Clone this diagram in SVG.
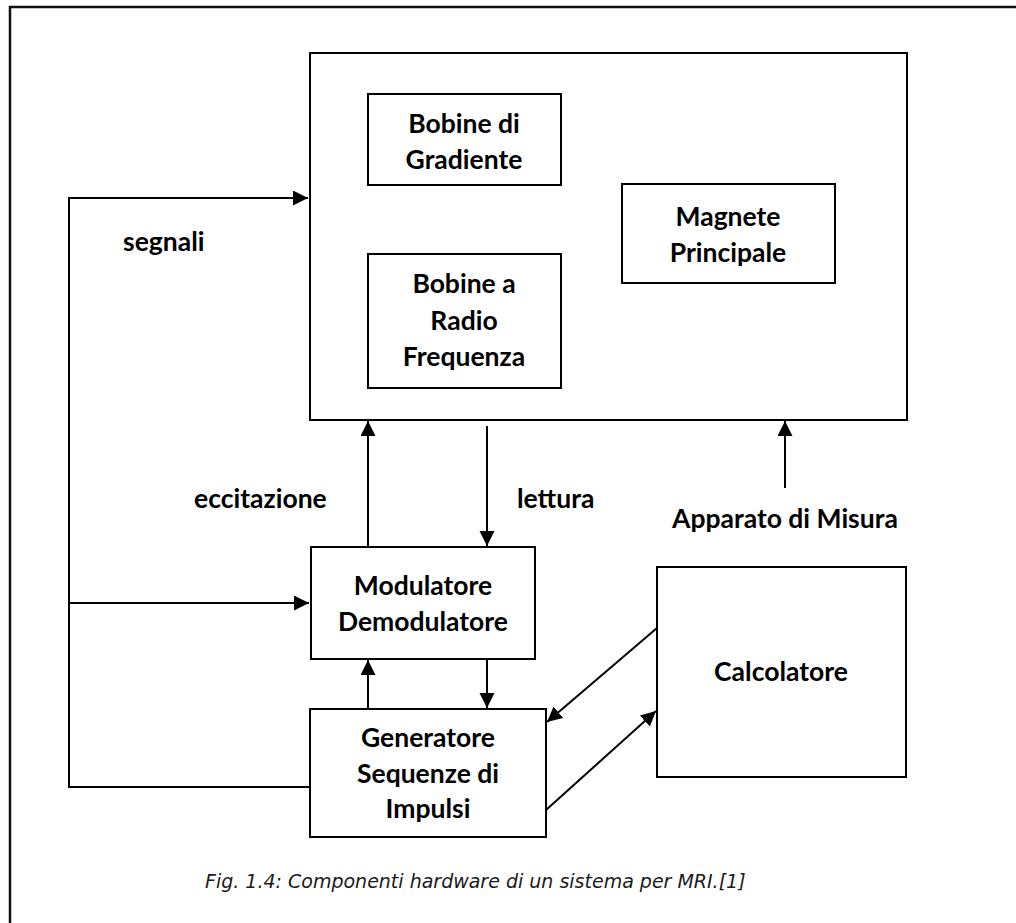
<svg xmlns="http://www.w3.org/2000/svg" width="1016" height="923" viewBox="0 0 1016 923">
  <style>
    .box { fill: #ffffff; stroke: #000000; stroke-width: 2; }
    .frame { fill: none; stroke: #111111; stroke-width: 2.5; }
    .wire { fill: none; stroke: #000000; stroke-width: 2; }
    .lbl { font-family: Lato, "Liberation Sans", sans-serif; font-weight: bold; font-size: 26.5px; fill: #000000; }
    .mid { text-anchor: middle; }
    .cap { font-family: "DejaVu Sans", Verdana, sans-serif; font-style: italic; font-size: 19px; fill: #1a1a1a; }
  </style>
  <defs>
    <marker id="head" markerUnits="userSpaceOnUse" markerWidth="16" markerHeight="16" refX="15" refY="7.5" orient="auto">
      <path d="M0,0 L15,7.5 L0,15 Z" fill="#000000"/>
    </marker>
  </defs>

  <rect width="1016" height="923" fill="#ffffff"/>

  <!-- page frame (top and left rules) -->
  <path class="frame" d="M10,923 V7 H1016"/>

  <!-- scanner enclosure -->
  <g id="scanner">
    <rect class="box" x="310" y="53" width="597" height="367"/>
  </g>

  <g id="gradient-coils">
    <rect class="box" x="368" y="94" width="193" height="91"/>
    <text class="lbl mid" x="464" y="133">Bobine di</text>
    <text class="lbl mid" x="464" y="169">Gradiente</text>
  </g>

  <g id="rf-coils">
    <rect class="box" x="368" y="254" width="193" height="134"/>
    <text class="lbl mid" x="464" y="293">Bobine a</text>
    <text class="lbl mid" x="464" y="330">Radio</text>
    <text class="lbl mid" x="464" y="366">Frequenza</text>
  </g>

  <g id="main-magnet">
    <rect class="box" x="622" y="184" width="213" height="99"/>
    <text class="lbl mid" x="728" y="226">Magnete</text>
    <text class="lbl mid" x="728" y="262">Principale</text>
  </g>

  <g id="modem">
    <rect class="box" x="311" y="547" width="224" height="112"/>
    <text class="lbl mid" x="423" y="595">Modulatore</text>
    <text class="lbl mid" x="423" y="631">Demodulatore</text>
  </g>

  <g id="pulse-generator">
    <rect class="box" x="310" y="709" width="236" height="128"/>
    <text class="lbl mid" x="428" y="747">Generatore</text>
    <text class="lbl mid" x="428" y="783">Sequenze di</text>
    <text class="lbl mid" x="428" y="818">Impulsi</text>
  </g>

  <g id="computer">
    <rect class="box" x="657" y="567" width="249" height="210"/>
    <text class="lbl mid" x="781" y="681">Calcolatore</text>
  </g>

  <g id="connectors">
    <!-- signal bus on the left -->
    <path class="wire" d="M310,787 H69 V198 H308" marker-end="url(#head)"/>
    <path class="wire" d="M69,603 H309" marker-end="url(#head)"/>
    <!-- excitation / readout -->
    <path class="wire" d="M368,546 V421" marker-end="url(#head)"/>
    <path class="wire" d="M487,426 V546" marker-end="url(#head)"/>
    <!-- generator <-> modem -->
    <path class="wire" d="M368,709 V660" marker-end="url(#head)"/>
    <path class="wire" d="M487,659 V708" marker-end="url(#head)"/>
    <!-- computer <-> generator -->
    <path class="wire" d="M657,628 L547,722" marker-end="url(#head)"/>
    <path class="wire" d="M546,810 L656,711" marker-end="url(#head)"/>
    <!-- measurement apparatus -->
    <path class="wire" d="M785,488 V421" marker-end="url(#head)"/>
  </g>

  <g id="labels">
    <text class="lbl" x="123" y="251">segnali</text>
    <text class="lbl" x="194" y="508">eccitazione</text>
    <text class="lbl" x="517" y="508">lettura</text>
    <text class="lbl" x="672" y="528">Apparato di Misura</text>
  </g>

  <text class="cap" x="205" y="888">Fig. 1.4: Componenti hardware di un sistema per MRI.[1]</text>
</svg>
